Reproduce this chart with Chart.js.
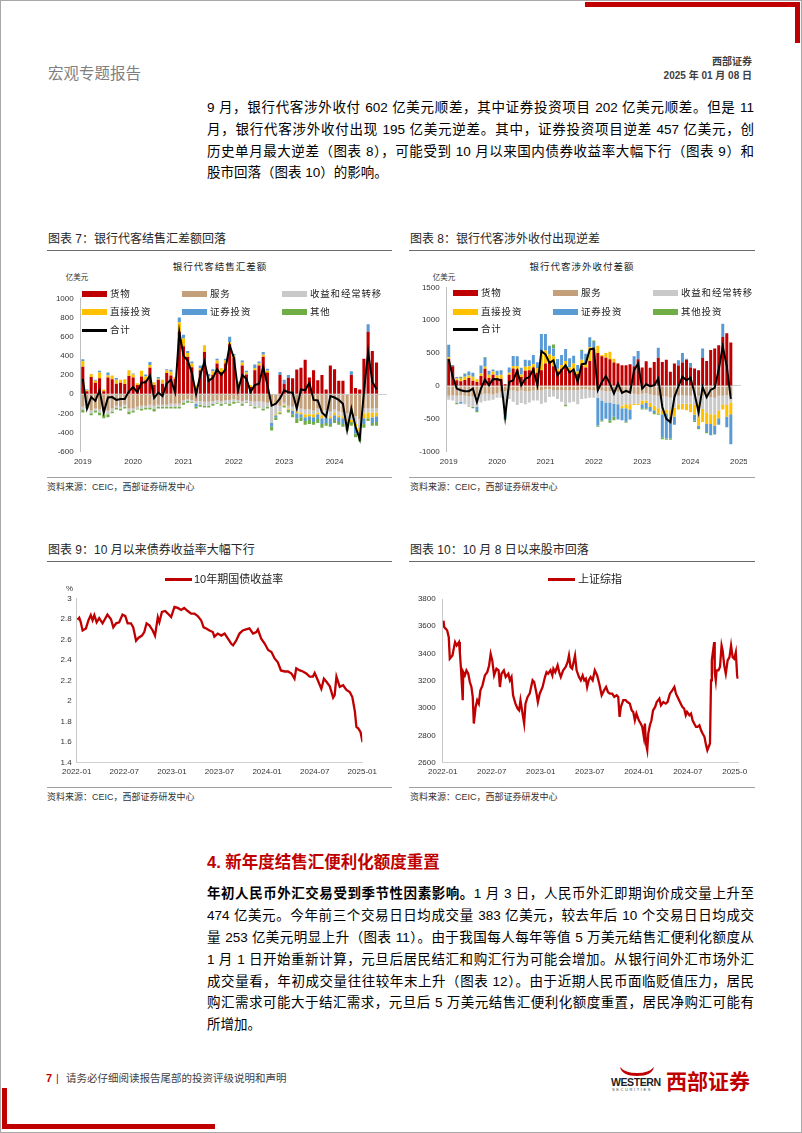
<!DOCTYPE html>
<html lang="zh-CN">
<head>
<meta charset="utf-8">
<title>宏观专题报告</title>
<script src="https://cdn.jsdelivr.net/npm/chart.js@4.4.1/dist/chart.umd.min.js"></script>
<style>
html,body{margin:0;padding:0;background:#fff;}
#page{position:relative;width:802px;height:1133px;overflow:hidden;background:#fff;font-family:"Liberation Sans","Noto Sans CJK SC",sans-serif;color:#000;}
.a{position:absolute;white-space:nowrap;}
.red{position:absolute;background:#C00000;}
.bl{position:absolute;left:207px;width:547px;height:22px;line-height:22px;font-size:13.5px;text-align:justify;text-align-last:justify;}
.cap{position:absolute;font-size:12px;line-height:20px;height:20px;color:#262626;white-space:nowrap;}
.hr{position:absolute;height:1px;background:#6b6b6b;}
.hr2{position:absolute;height:1px;background:#a0a0a0;}
.src{position:absolute;font-size:9px;line-height:14px;color:#333;white-space:nowrap;}
.ttl{position:absolute;font-size:9.5px;letter-spacing:1px;line-height:14px;color:#222;white-space:nowrap;transform:translateX(-50%);}
.lg{position:absolute;font-size:9.5px;letter-spacing:0.8px;line-height:14px;color:#222;white-space:nowrap;}
.sw{position:absolute;width:25px;height:6px;}
.unit{position:absolute;font-size:7.5px;line-height:10px;color:#333;white-space:nowrap;transform:translateX(-50%);}
canvas{position:absolute;}
</style>
</head>
<body>
<div id="page">
  <!-- frame and decorations -->
  <div class="a" style="left:0;top:0;width:802px;height:1133px;box-sizing:border-box;border:1px solid #a8a8a8;"></div>
  <div class="red" style="left:585px;top:2px;width:215px;height:5px;"></div>
  <div class="red" style="left:795px;top:2px;width:5px;height:41px;"></div>
  <div class="red" style="left:2px;top:1088px;width:5px;height:41px;"></div>
  <div class="red" style="left:2px;top:1124px;width:213px;height:5px;"></div>

  <!-- header -->
  <div class="a" style="left:48px;top:64px;line-height:20px;font-size:15.5px;color:#7f7f7f;">宏观专题报告</div>
  <div class="a" style="right:50px;top:54px;line-height:16px;font-size:10px;font-weight:bold;color:#404040;">西部证券</div>
  <div class="a" style="right:50px;top:68px;line-height:16px;font-size:10px;font-weight:bold;color:#404040;">2025 年 01 月 08 日</div>

  <!-- top paragraph -->
  <div class="bl" style="top:97px;">9 月，银行代客涉外收付 602 亿美元顺差，其中证券投资项目 202 亿美元顺差。但是 11</div>
  <div class="bl" style="top:119px;">月，银行代客涉外收付出现 195 亿美元逆差。其中，证券投资项目逆差 457 亿美元，创</div>
  <div class="bl" style="top:141px;">历史单月最大逆差（图表 8），可能受到 10 月以来国内债券收益率大幅下行（图表 9）和</div>
  <div class="bl" style="top:162px;text-align:left;text-align-last:left;">股市回落（图表 10）的影响。</div>

  <!-- chart 7 frame texts -->
  <div class="cap" style="left:48px;top:229px;">图表 7：银行代客结售汇差额回落</div>
  <div class="hr" style="left:47px;top:250px;width:345px;"></div>
  <div class="ttl" style="left:220px;top:260px;">银行代客结售汇差额</div>
  <div class="unit" style="left:77px;top:273px;">亿美元</div>
  <div class="hr2" style="left:47px;top:477px;width:345px;"></div>
  <div class="src" style="left:47px;top:480px;">资料来源：CEIC，西部证券研发中心</div>

  <!-- chart 8 frame texts -->
  <div class="cap" style="left:410px;top:229px;">图表 8：银行代客涉外收付出现逆差</div>
  <div class="hr" style="left:409px;top:250px;width:346px;"></div>
  <div class="ttl" style="left:582px;top:260px;">银行代客涉外收付差额</div>
  <div class="unit" style="left:444px;top:273px;">亿美元</div>
  <div class="hr2" style="left:409px;top:477px;width:346px;"></div>
  <div class="src" style="left:410px;top:480px;">资料来源：CEIC，西部证券研发中心</div>

  <!-- chart 9 frame texts -->
  <div class="cap" style="left:48px;top:540px;">图表 9：10 月以来债券收益率大幅下行</div>
  <div class="hr" style="left:47px;top:561px;width:345px;"></div>
  <div class="hr2" style="left:47px;top:787px;width:345px;"></div>
  <div class="src" style="left:47px;top:790px;">资料来源：CEIC，西部证券研发中心</div>

  <!-- chart 10 frame texts -->
  <div class="cap" style="left:410px;top:540px;">图表 10：10 月 8 日以来股市回落</div>
  <div class="hr" style="left:409px;top:561px;width:346px;"></div>
  <div class="hr2" style="left:409px;top:787px;width:346px;"></div>
  <div class="src" style="left:410px;top:790px;">资料来源：CEIC，西部证券研发中心</div>

  <!-- canvases -->
  <canvas id="c7" width="355" height="185" style="left:40px;top:285px;"></canvas>
  <canvas id="c8" width="347" height="195" style="left:400px;top:275px;"></canvas>
  <canvas id="c9" width="350" height="200" style="left:40px;top:585px;"></canvas>
  <canvas id="c10" width="347" height="200" style="left:400px;top:585px;"></canvas>

  <!-- chart 7 legend -->
  <div class="sw" style="left:82px;top:291px;background:#C00000;"></div><div class="lg" style="left:110px;top:287px;">货物</div>
  <div class="sw" style="left:182px;top:291px;background:#C4A07A;"></div><div class="lg" style="left:210px;top:287px;">服务</div>
  <div class="sw" style="left:282px;top:291px;background:#C9C9C9;"></div><div class="lg" style="left:310px;top:287px;">收益和经常转移</div>
  <div class="sw" style="left:82px;top:309px;background:#FFC000;"></div><div class="lg" style="left:110px;top:305px;">直接投资</div>
  <div class="sw" style="left:182px;top:309px;background:#5B9BD5;"></div><div class="lg" style="left:210px;top:305px;">证券投资</div>
  <div class="sw" style="left:282px;top:309px;background:#70AD47;"></div><div class="lg" style="left:310px;top:305px;">其他</div>
  <div class="sw" style="left:82px;top:329px;height:2.5px;background:#000;"></div><div class="lg" style="left:110px;top:323px;">合计</div>

  <!-- chart 8 legend -->
  <div class="sw" style="left:453px;top:290px;background:#C00000;"></div><div class="lg" style="left:481px;top:286px;">货物</div>
  <div class="sw" style="left:553px;top:290px;background:#C4A07A;"></div><div class="lg" style="left:581px;top:286px;">服务</div>
  <div class="sw" style="left:653px;top:290px;background:#C9C9C9;"></div><div class="lg" style="left:681px;top:286px;">收益和经常转移</div>
  <div class="sw" style="left:453px;top:309px;background:#FFC000;"></div><div class="lg" style="left:481px;top:305px;">直接投资</div>
  <div class="sw" style="left:553px;top:309px;background:#5B9BD5;"></div><div class="lg" style="left:581px;top:305px;">证券投资</div>
  <div class="sw" style="left:653px;top:309px;background:#70AD47;"></div><div class="lg" style="left:681px;top:305px;">其他投资</div>
  <div class="sw" style="left:453px;top:328px;height:2.5px;background:#000;"></div><div class="lg" style="left:481px;top:322px;">合计</div>

  <!-- chart 9 legend -->
  <div class="sw" style="left:165px;top:578px;width:27px;height:2.6px;background:#C00000;"></div>
  <div class="a" style="left:194px;top:572px;font-size:11px;line-height:15px;color:#222;">10年期国债收益率</div>
  <div class="a" style="left:66px;top:584px;font-size:8px;line-height:10px;color:#333;">%</div>

  <!-- chart 10 legend -->
  <div class="sw" style="left:548px;top:578px;width:27px;height:2.6px;background:#C00000;"></div>
  <div class="a" style="left:578px;top:572px;font-size:11px;line-height:15px;color:#222;">上证综指</div>

  <!-- section 4 -->
  <div class="a" style="left:207px;top:851px;line-height:22px;font-size:16.5px;font-weight:bold;color:#C00000;">4. 新年度结售汇便利化额度重置</div>
  <div class="bl" style="top:883px;"><b>年初人民币外汇交易受到季节性因素影响。</b>1 月 3 日，人民币外汇即期询价成交量上升至</div>
  <div class="bl" style="top:905px;">474 亿美元。今年前三个交易日日均成交量 383 亿美元，较去年后 10 个交易日日均成交</div>
  <div class="bl" style="top:927px;">量 253 亿美元明显上升（图表 11）。由于我国每人每年等值 5 万美元结售汇便利化额度从</div>
  <div class="bl" style="top:949px;">1 月 1 日开始重新计算，元旦后居民结汇和购汇行为可能会增加。从银行间外汇市场外汇</div>
  <div class="bl" style="top:971px;">成交量看，年初成交量往往较年末上升（图表 12）。由于近期人民币面临贬值压力，居民</div>
  <div class="bl" style="top:992px;">购汇需求可能大于结汇需求，元旦后 5 万美元结售汇便利化额度重置，居民净购汇可能有</div>
  <div class="bl" style="top:1014px;text-align:left;text-align-last:left;">所增加。</div>

  <!-- footer -->
  <div class="a" style="left:46px;top:1071px;line-height:15px;font-size:11px;font-weight:bold;color:#C00000;">7</div>
  <div class="a" style="left:56px;top:1071px;line-height:15px;font-size:11px;color:#C00000;">|</div>
  <div class="a" style="left:66px;top:1071px;line-height:15px;font-size:10.5px;color:#404040;">请务必仔细阅读报告尾部的投资评级说明和声明</div>
  <svg class="a" style="left:619px;top:1066px;" width="36" height="12" viewBox="0 0 36 12"><path d="M1 1 Q3 10 18 10 Q33 10 35 1 Q30 7 18 7 Q6 7 1 1 Z" fill="#C00000"/></svg>
  <div class="a" style="left:611px;top:1076px;line-height:13px;font-size:10.5px;font-weight:bold;color:#222;letter-spacing:-0.4px;">WESTERN</div>
  <div class="a" style="left:612px;top:1087px;line-height:5px;font-size:4px;color:#444;letter-spacing:1.6px;">SECURITIES</div>
  <div class="a" style="left:666px;top:1069px;line-height:26px;font-size:21px;font-weight:bold;color:#C00000;">西部证券</div>
</div>

<script>
// ---------- categories ----------
const pad2 = n => String(n).padStart(2, '0');
const months = [];
for (let y = 2019; y <= 2025; y++) {
  for (let m = 1; m <= 12; m++) {
    if (y === 2025 && m > 1) break;
    months.push(y + '-' + pad2(m));
  }
}
const yearTicks7 = ['2019', '2020', '2021', '2022', '2023', '2024'];
const yearTicks8 = ['2019', '2020', '2021', '2022', '2023', '2024', '2025'];

// ---------- 图表7 银行代客结售汇差额 (亿美元, 2019-01 .. 2024-11) ----------
const goods7 = [285,30,180,120,165,30,175,155,110,120,105,190,
  175,95,185,145,275,95,150,110,220,195,160,650,
  500,390,280,60,250,440,160,200,320,230,320,520,
  380,100,300,205,75,250,300,390,225,0,0,200,
  110,170,165,257,275,360,175,250,145,200,50,300,
  260,140,140,0,200,65,50,370,650,450,330];
const services7 = [-130,-110,-170,-150,-160,-180,-170,-150,-120,-130,-110,-150,
  -150,-130,-120,-120,-110,-120,-110,-110,-110,-100,-100,-100,
  -60,-50,-60,-70,-70,-80,-80,-70,-60,-70,-60,-60,
  -50,-60,-70,-60,-70,-80,-70,-80,-90,-100,-110,-120,
  -90,-120,-130,-140,-150,-160,-160,-170,-150,-180,-170,-180,
  -160,-180,-190,-200,-190,-230,-260,-150,-150,-150,-150];
const income7 = [-30,-20,-30,-20,-30,-30,-40,-30,-20,-20,-20,-30,
  -20,-20,-30,-20,-30,-30,-20,-20,-20,-30,-30,-30,
  -30,-20,-20,-30,-40,-40,-40,-30,-30,-30,-30,-40,
  -30,-20,-30,-20,-40,-50,-60,-70,-40,-200,-100,-60,
  -20,-30,-30,-40,-40,-50,-50,-40,-40,-40,-50,-50,
  -30,-40,-40,-60,-80,-80,-90,-50,-40,-40,-40];
const direct7 = [60,10,30,20,60,20,20,40,40,30,50,60,
  30,20,60,40,30,30,10,40,30,40,20,100,
  80,40,40,30,20,70,30,40,30,40,30,20,
  20,20,30,20,20,20,20,20,20,0,-10,-10,
  -10,-10,-10,-20,-20,-30,-20,-30,-20,-30,-20,-20,
  -30,-20,-20,-30,-20,-30,-40,-50,-60,-50,-40];
const portfolio7 = [20,10,0,10,20,0,30,0,20,0,0,0,
  10,0,0,20,30,0,20,0,10,20,0,50,
  40,20,20,-30,30,0,20,20,20,0,20,60,
  20,10,20,20,0,40,20,30,20,-40,-20,30,
  40,30,-40,-50,-30,-40,-40,-50,-50,-60,-60,-60,
  -50,-50,-60,-60,40,-70,-60,-60,80,-60,-60];
const other7 = [-30,-20,-20,-20,-30,-40,-30,-20,-20,-20,-20,-30,
  -20,-10,-20,-20,-20,-30,-20,-20,-20,-20,-20,-20,
  -20,-20,-10,-20,-20,-20,-20,-20,-10,-20,-10,-20,
  -20,-10,-20,-10,-10,-20,-10,-20,-20,-40,-30,-20,
  -20,-30,-30,-50,-40,-40,-40,-30,-40,-40,-30,-30,
  -30,-30,-30,-30,-40,-40,-40,-40,-30,-30,-40];
const total7 = [160,-150,-30,-70,40,-190,-35,-30,-60,-50,-50,30,
  75,20,120,125,195,-40,15,-20,110,150,20,650,
  400,350,220,0,200,340,140,170,260,200,260,510,
  380,40,200,160,25,95,110,285,95,-120,-100,-45,
  40,20,15,-150,50,40,120,-60,-65,-190,-235,-20,
  -35,-60,-100,-375,-150,-340,-470,20,440,130,50];

// ---------- 图表8 银行代客涉外收付差额 (亿美元, 2019-01 .. 2024-11) ----------
const goods8 = [415,300,85,70,90,120,80,60,150,260,120,170,
  120,110,25,170,265,250,135,230,240,280,200,240,
  340,380,300,220,260,300,230,220,180,310,280,380,
  560,500,450,430,405,355,340,315,315,330,300,405,
  280,375,275,365,430,365,400,215,340,310,355,400,
  280,265,240,425,380,545,570,620,745,800,660];
const services8 = [-150,-140,-150,-140,-150,-160,-160,-150,-130,-120,-120,-130,
  -110,-90,-80,-70,-70,-80,-70,-80,-80,-70,-60,-70,
  -50,-50,-60,-60,-60,-70,-60,-60,-60,-50,-50,-60,
  -70,-60,-70,-80,-80,-90,-90,-100,-110,-120,-120,-130,
  -120,-110,-130,-140,-150,-160,-160,-180,-160,-150,-140,-150,
  -150,-140,-150,-150,-160,-170,-180,-150,-150,-140,-140];
const income8 = [-60,-80,-110,-100,-130,-160,-160,-170,-120,-110,-100,-80,
  -70,-90,-300,-130,-170,-210,-190,-200,-170,-150,-160,-200,
  -200,-120,-100,-140,-180,-220,-190,-180,-220,-150,-140,-120,
  -110,-120,-150,-170,-170,-180,-190,-200,-170,-160,-150,-140,
  -100,-110,-130,-160,-190,-210,-200,-190,-170,-130,-130,-120,
  -120,-150,-120,-200,-240,-260,-250,-220,-130,-150,-110];
const direct8 = [20,0,30,40,50,40,60,40,40,30,50,50,
  40,60,-20,30,40,50,40,60,60,50,70,250,
  200,100,150,40,60,80,50,120,40,90,60,210,
  20,110,20,70,115,60,10,-40,-60,-80,-20,-20,
  -60,-40,-60,-70,-80,-60,-60,-100,-140,-80,-90,-100,
  -130,-150,-330,-200,-180,-150,-170,-120,-80,-180,-180];
const portfolio8 = [190,20,20,-30,40,60,60,-60,120,140,60,30,
  70,70,-90,80,150,150,100,110,90,140,90,300,
  250,130,120,150,150,180,140,120,100,130,150,150,
  90,-420,-300,-250,-270,-200,-230,-180,-200,-150,150,125,
  -60,-80,-70,-40,150,-350,-380,-330,-120,80,145,15,
  70,-90,-40,145,-120,-170,-130,-100,200,-160,-457];
const other8 = [0,0,-20,30,10,0,-20,-20,0,10,0,0,
  0,0,-20,0,0,0,0,0,0,0,0,0,
  0,0,60,0,0,-20,0,0,0,20,0,0,
  20,-20,-20,0,-40,-50,0,0,-20,0,0,0,
  -20,-20,0,-20,-20,-30,-20,-20,0,0,0,0,
  0,-20,-20,0,-20,0,-10,0,0,0,0];
const total8 = [405,137,-40,-65,-80,-80,-40,-245,-40,95,10,105,
  100,85,-470,60,85,230,10,110,135,250,10,530,
  480,350,390,160,240,315,200,250,60,330,340,555,
  570,-65,60,150,35,-115,35,-105,-75,-100,240,340,
  -40,25,-5,10,110,-320,-500,-550,-170,-5,140,85,
  125,-115,-400,-15,-170,-60,-30,250,600,300,-195];

// ---------- 图表9 10年期国债收益率 (%) ----------
const yieldDates = ['2022-01-04','2022-01-11','2022-01-17','2022-01-24','2022-02-06','2022-02-16','2022-02-25','2022-03-01','2022-03-08','2022-03-17','2022-03-27','2022-04-09','2022-04-18','2022-04-28','2022-05-11','2022-05-20','2022-05-31','2022-06-12','2022-06-25','2022-07-05','2022-07-14','2022-07-27','2022-08-05','2022-08-16','2022-08-26','2022-09-08','2022-09-17','2022-09-26','2022-10-06','2022-10-19','2022-10-28','2022-11-08','2022-11-14','2022-11-24','2022-12-06','2022-12-16','2022-12-29',
  '2023-01-11','2023-01-24','2023-02-06','2023-02-18','2023-03-01','2023-03-14','2023-03-27','2023-04-09','2023-04-22','2023-05-01','2023-05-11','2023-05-24','2023-06-06','2023-06-12','2023-06-25','2023-07-08','2023-07-21','2023-08-03','2023-08-16','2023-08-23','2023-09-04','2023-09-17','2023-09-30','2023-10-12','2023-10-25','2023-11-08','2023-11-21','2023-11-27','2023-12-09','2023-12-23',
  '2024-01-05','2024-01-18','2024-01-31','2024-02-12','2024-02-24','2024-03-08','2024-03-21','2024-04-03','2024-04-15','2024-04-22','2024-05-05','2024-05-17','2024-05-30','2024-06-12','2024-06-25','2024-07-01','2024-07-14','2024-07-27','2024-08-06','2024-08-16','2024-08-29','2024-09-11','2024-09-17','2024-09-24','2024-10-06','2024-10-19','2024-11-01','2024-11-14','2024-11-24','2024-12-03','2024-12-09','2024-12-16','2024-12-25','2025-01-02'];
const yieldValues = [2.795,2.815,2.77,2.69,2.71,2.79,2.84,2.79,2.84,2.77,2.81,2.76,2.80,2.845,2.80,2.72,2.76,2.77,2.845,2.83,2.76,2.76,2.72,2.59,2.62,2.64,2.675,2.76,2.74,2.69,2.64,2.82,2.77,2.87,2.88,2.855,2.82,
  2.92,2.91,2.89,2.91,2.88,2.855,2.855,2.83,2.79,2.72,2.71,2.69,2.675,2.63,2.66,2.64,2.66,2.61,2.56,2.545,2.59,2.66,2.69,2.70,2.71,2.66,2.675,2.70,2.61,2.56,
  2.50,2.48,2.415,2.38,2.30,2.29,2.29,2.27,2.22,2.32,2.30,2.29,2.27,2.24,2.24,2.275,2.20,2.12,2.22,2.19,2.145,2.035,2.06,2.24,2.14,2.155,2.11,2.09,2.04,1.90,1.75,1.735,1.70,1.60];

// ---------- 图表10 上证综指 ----------
const sseDates = ['2022-01-04','2022-01-07','2022-01-13','2022-01-18','2022-01-24','2022-01-28','2022-02-07','2022-02-13','2022-02-17','2022-02-23','2022-03-01','2022-03-04','2022-03-08','2022-03-15','2022-03-17','2022-03-23','2022-03-29','2022-04-05','2022-04-11','2022-04-17','2022-04-22','2022-04-26','2022-05-02','2022-05-08','2022-05-14','2022-05-20','2022-05-28','2022-06-06','2022-06-15','2022-06-22','2022-06-28','2022-07-03','2022-07-10','2022-07-19','2022-07-27','2022-08-01','2022-08-07','2022-08-16','2022-08-23','2022-09-02','2022-09-08','2022-09-14','2022-09-20','2022-09-29','2022-10-06','2022-10-12','2022-10-17','2022-10-25','2022-10-31','2022-11-05','2022-11-13','2022-11-21','2022-12-01','2022-12-07','2022-12-16','2022-12-21','2022-12-28',
  '2023-01-08','2023-01-17','2023-01-23','2023-01-29','2023-02-07','2023-02-14','2023-02-18','2023-02-25','2023-03-03','2023-03-09','2023-03-15','2023-03-24','2023-04-02','2023-04-10','2023-04-15','2023-04-21','2023-04-27','2023-05-03','2023-05-07','2023-05-13','2023-05-22','2023-05-29','2023-06-05','2023-06-11','2023-06-17','2023-06-22','2023-06-28','2023-07-04','2023-07-12','2023-07-20','2023-07-29','2023-08-06','2023-08-15','2023-08-24','2023-09-01','2023-09-08','2023-09-15','2023-09-24','2023-10-01','2023-10-10','2023-10-16','2023-10-21','2023-10-26','2023-11-04','2023-11-13','2023-11-20','2023-11-29','2023-12-05','2023-12-11','2023-12-17','2023-12-23',
  '2024-01-01','2024-01-08','2024-01-14','2024-01-20','2024-01-24','2024-01-28','2024-02-02','2024-02-06','2024-02-12','2024-02-18','2024-02-24','2024-03-01','2024-03-07','2024-03-17','2024-03-23','2024-04-01','2024-04-10','2024-04-17','2024-04-26','2024-05-04','2024-05-12','2024-05-18','2024-05-24','2024-06-02','2024-06-11','2024-06-18','2024-06-24','2024-06-29','2024-07-07','2024-07-13','2024-07-19','2024-07-25','2024-08-01','2024-08-07','2024-08-14','2024-08-20','2024-08-26','2024-09-02','2024-09-08','2024-09-13','2024-09-18','2024-09-23','2024-09-27','2024-09-30','2024-10-08','2024-10-10','2024-10-14','2024-10-17','2024-10-24','2024-10-30','2024-11-05','2024-11-09','2024-11-15','2024-11-21','2024-11-28','2024-12-04','2024-12-10','2024-12-16','2024-12-22','2024-12-28','2025-01-02','2025-01-04'];
const sseValues = [3642,3593,3581,3569,3520,3362,3386,3447,3484,3459,3484,3410,3300,3058,3264,3240,3277,3252,3191,3155,3082,2887,3009,3058,3033,3130,3167,3240,3264,3313,3398,3350,3240,3289,3277,3155,3252,3277,3228,3252,3204,3228,3094,3033,2997,2984,3058,2960,2887,3033,3082,3106,3204,3191,3106,3045,3106,
  3155,3228,3264,3252,3277,3240,3289,3264,3313,3264,3228,3277,3301,3338,3386,3301,3289,3350,3386,3277,3228,3204,3240,3204,3216,3155,3204,3228,3204,3277,3240,3179,3094,3130,3155,3118,3106,3106,3082,3094,3082,2936,3009,3058,3058,3045,3033,2984,2972,2911,2960,
  2911,2887,2863,2790,2887,2741,2692,2814,2875,2911,2984,3009,3045,3070,3021,3045,3033,3045,3106,3130,3155,3106,3082,3045,3009,2997,2948,2972,2948,2960,2911,2887,2863,2863,2875,2838,2814,2790,2729,2692,2717,2741,3204,3350,3484,3264,3204,3277,3277,3301,3459,3423,3313,3252,3350,3374,3459,3374,3362,3410,3240,3216];

// ---------- styling helpers ----------
const COL = {goods:'#C00000', services:'#C4A07A', income:'#C9C9C9', direct:'#FFC000', portfolio:'#5B9BD5', other:'#70AD47'};
const tickFont = {family:'Liberation Sans', size: 8};
const tickColor = '#333333';
const fixY = w => s => { s.width = w; s.paddingTop = 0; s.paddingBottom = 0; };
const fixX = h => s => { s.height = h; s.paddingLeft = 0; s.paddingRight = 0; };
function monthPos(d) {
  const p = d.split('-').map(Number);
  return (p[0] - 2022) * 12 + (p[1] - 1) + (p[2] - 1) / 31;
}
function monthLabel(v) {
  const y = 2022 + Math.floor(v / 12);
  const m = Math.round(v - Math.floor(v / 12) * 12) + 1;
  return y + '-' + pad2(m);
}

function stackChart(id, yearTicks, series, total, yMin, yMax, step, box) {
  const ds = [{
    type: 'line', label: '合计', data: total, borderColor: '#000', borderWidth: 2,
    pointRadius: 0, pointHoverRadius: 0, tension: 0, order: -1, fill: false
  }];
  series.forEach(s => ds.push({
    type: 'bar', label: s.label, data: s.data, backgroundColor: s.color,
    borderWidth: 0, barPercentage: 0.74, categoryPercentage: 1.0
  }));
  new Chart(document.getElementById(id), {
    data: {labels: months, datasets: ds},
    options: {
      responsive: false, maintainAspectRatio: false, animation: false,
      layout: {padding: {left: 0, right: box.pr, top: box.pt, bottom: 0}},
      plugins: {legend: {display: false}, tooltip: {enabled: false}},
      scales: {
        x: {
          stacked: true, offset: true,
          grid: {display: false, drawTicks: false}, border: {display: false},
          ticks: {
            autoSkip: false, maxRotation: 0, minRotation: 0, padding: 5, font: tickFont, color: tickColor,
            callback: (v, i) => {
              const lab = months[i];
              return (lab.endsWith('-01') && yearTicks.includes(lab.slice(0, 4))) ? lab.slice(0, 4) : '';
            }
          },
          afterFit: fixX(box.xh)
        },
        y: {
          stacked: true, min: yMin, max: yMax,
          ticks: {stepSize: step, padding: 7, font: tickFont, color: tickColor, callback: v => String(v)},
          grid: {drawTicks: false, lineWidth: 1, color: c => (c.tick && c.tick.value === 0) ? '#D0D0D0' : 'rgba(0,0,0,0)'},
          border: {display: true, color: '#BFBFBF', width: 1},
          afterFit: fixY(box.yw)
        }
      }
    }
  });
}

function lineChart(id, label, dates, values, yMin, yMax, step, xMax, yFmt, box) {
  const pts = dates.map((d, i) => ({x: monthPos(d), y: values[i]}));
  new Chart(document.getElementById(id), {
    type: 'line',
    data: {datasets: [{label: label, data: pts, borderColor: '#C00000', borderWidth: 2.3,
      pointRadius: 0, pointHoverRadius: 0, tension: 0, fill: false}]},
    options: {
      responsive: false, maintainAspectRatio: false, animation: false,
      layout: {padding: {left: 0, right: box.pr, top: box.pt, bottom: 0}},
      plugins: {legend: {display: false}, tooltip: {enabled: false}},
      scales: {
        x: {
          type: 'linear', min: 0, max: xMax,
          grid: {display: false, drawTicks: false}, border: {display: true, color: '#D0D0D0'},
          ticks: {stepSize: 6, includeBounds: false, autoSkip: false, maxRotation: 0, minRotation: 0,
            padding: 4, font: tickFont, color: tickColor, callback: v => monthLabel(v)},
          afterFit: fixX(box.xh)
        },
        y: {
          min: yMin, max: yMax,
          grid: {display: false, drawTicks: false}, border: {display: true, color: '#C8C8C8'},
          ticks: {stepSize: step, padding: box.yp, font: tickFont, color: tickColor, callback: yFmt},
          afterFit: fixY(box.yw)
        }
      }
    }
  });
}

stackChart('c7', yearTicks7, [
  {label: '货物', data: goods7, color: COL.goods},
  {label: '服务', data: services7, color: COL.services},
  {label: '收益和经常转移', data: income7, color: COL.income},
  {label: '直接投资', data: direct7, color: COL.direct},
  {label: '证券投资', data: portfolio7, color: COL.portfolio},
  {label: '其他', data: other7, color: COL.other}
], total7, -600, 1000, 200, {pt: 13.3, pr: 8, yw: 40.7, xh: 18.3});

stackChart('c8', yearTicks8, [
  {label: '货物', data: goods8, color: COL.goods},
  {label: '服务', data: services8, color: COL.services},
  {label: '收益和经常转移', data: income8, color: COL.income},
  {label: '直接投资', data: direct8, color: COL.direct},
  {label: '证券投资', data: portfolio8, color: COL.portfolio},
  {label: '其他投资', data: other8, color: COL.other}
], total8, -1000, 1500, 500, {pt: 12.3, pr: 6.1, yw: 46.7, xh: 18.3});

lineChart('c9', '10年期国债收益率', yieldDates, yieldValues, 1.4, 3, 0.2, 36,
  v => String(Math.round(v * 10) / 10), {pt: 13.7, pr: 27.7, yw: 36.7, xh: 22.3, yp: 5});

lineChart('c10', '上证综指', sseDates, sseValues, 2600, 3800, 200, 36.2,
  v => String(v), {pt: 14, pr: 8.5, yw: 42.7, xh: 22.3, yp: 7});
</script>
</body>
</html>
